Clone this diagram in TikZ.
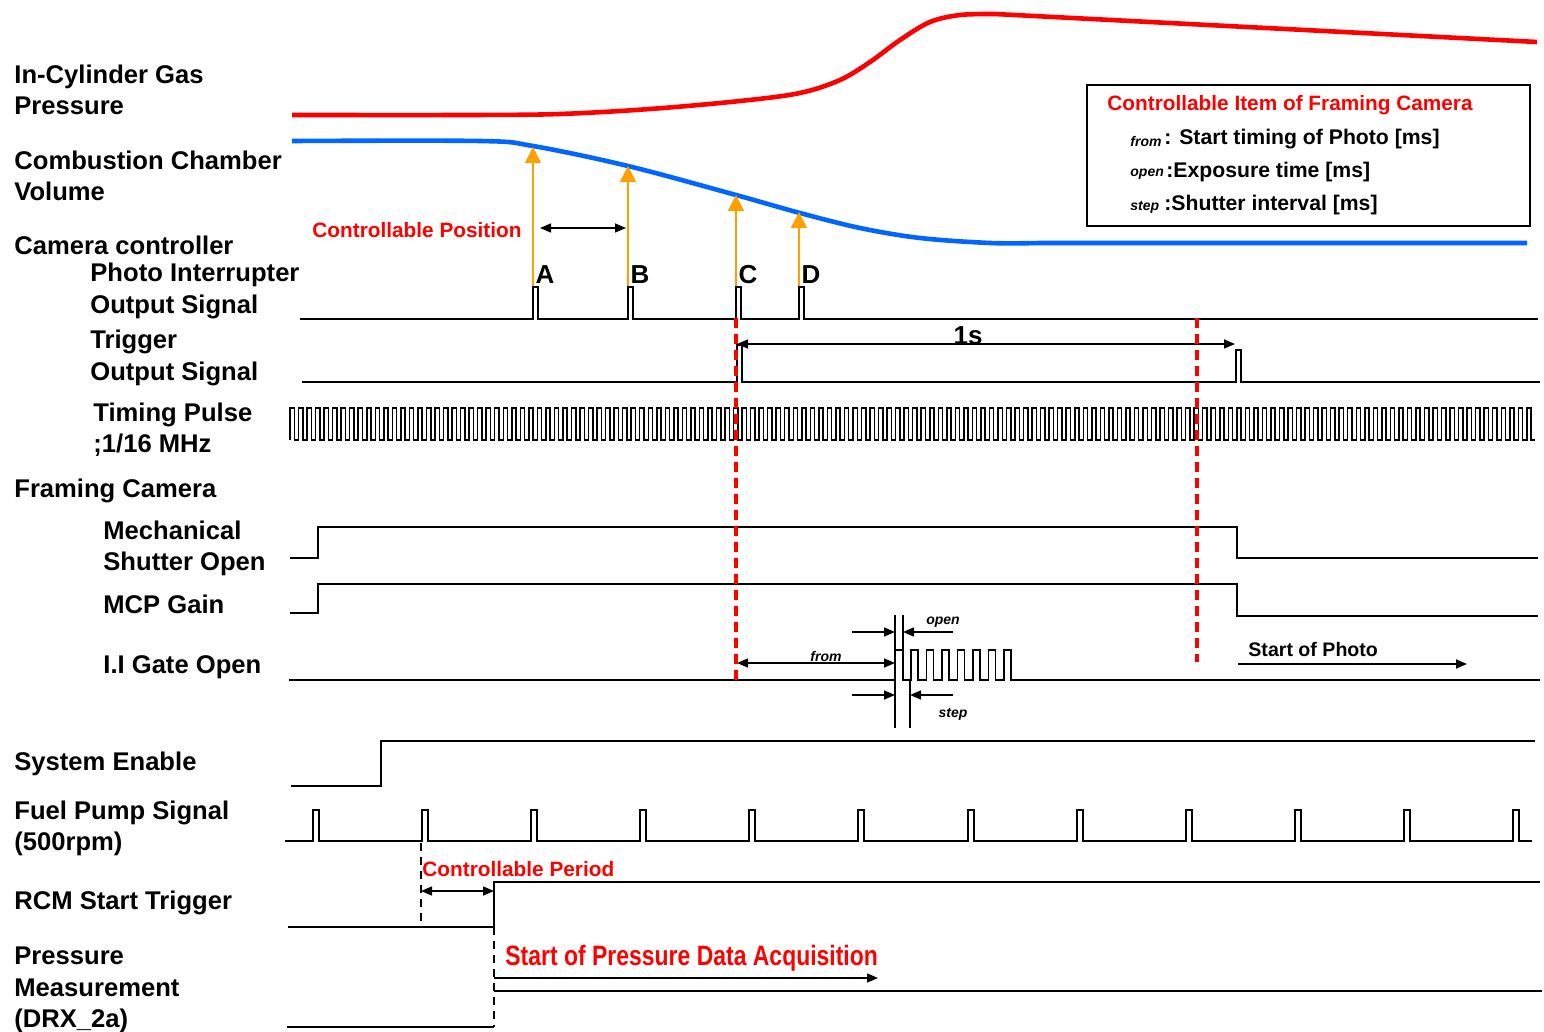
\documentclass[tikz,border=0pt]{standalone}
\usepackage{fontspec}
\setmainfont{Liberation Sans}
\usetikzlibrary{arrows.meta,calc}
\definecolor{volblue}{RGB}{0,102,255}
\definecolor{posorange}{RGB}{255,160,0}
\tikzset{
  sig/.style={line width=0.75pt,black,line join=miter},
  pcurve/.style={line width=2.3pt,red},
  vcurve/.style={line width=2.3pt,volblue},
  oarr/.style={-{Triangle[length=8pt,width=8pt]},line width=0.8pt,posorange},
  darr/.style={{Triangle[length=5.5pt,width=4.5pt]}-{Triangle[length=5.5pt,width=4.5pt]},line width=0.75pt},
  sarr/.style={-{Triangle[length=5.5pt,width=4.5pt]},line width=0.75pt},
  rdash/.style={line width=1.8pt,red,dash pattern=on 5pt off 3pt},
  kdash/.style={line width=1.1pt,dash pattern=on 4pt off 3pt},
  lbl/.style={font=\fontsize{12.8}{15.6}\selectfont\bfseries,align=left,anchor=west,inner sep=0pt},
  rtxt/.style={font=\fontsize{10.4}{12}\selectfont\bfseries,text=red,inner sep=0pt},
  btxt/.style={font=\fontsize{10.6}{12}\selectfont\bfseries,inner sep=0pt,anchor=west},
  itxt/.style={font=\fontsize{7}{8}\selectfont\bfseries\itshape,inner sep=0pt},
  abcd/.style={font=\fontsize{13}{14}\selectfont\bfseries,inner sep=0pt},
}

\begin{document}
\begin{tikzpicture}[x=0.5pt,y=-0.5pt]
  \useasboundingbox (0,0) rectangle (1544,1032);
  % row labels
  \node[lbl] (lGas) at (14,90) {In-Cylinder Gas\\Pressure};
  \node[lbl] (lVol) at (14,176) {Combustion Chamber\\Volume};
  \node[lbl] (lCtl) at (14,245) {Camera controller};
  \node[lbl] (lPI) at (90,291) {Photo Interrupter\\Output Signal};
  \node[lbl] (lTrg) at (90,358) {Trigger\\Output Signal};
  \node[lbl] (lTP) at (93,430) {Timing Pulse\\;1/16 MHz};
  \node[lbl] (lFC) at (14,491) {Framing Camera};
  \node[lbl] (lMS) at (103,548) {Mechanical\\Shutter Open};
  \node[lbl] (lMCP) at (103,604) {MCP Gain};
  \node[lbl] (lII) at (103,667) {I.I Gate Open};
  \node[lbl] (lSE) at (14,764) {System Enable};
  \node[lbl] (lFP) at (14,828) {Fuel Pump Signal\\(500rpm)};
  \node[lbl] (lRCM) at (14,903) {RCM Start Trigger};
  \node[lbl] (lPM) at (14,990) {Pressure\\Measurement\\(DRX\_2a)};

  % pressure and volume curves
  \draw[pcurve] plot[smooth,tension=0.55] coordinates {(292,115) (470,115) (560,114) (650,109)
    (740,101) (800,93) (840,80) (870,62) (900,40) (930,22) (960,15) (995,14)} -- (1537,42);
  \draw[vcurve] plot[smooth,tension=0.55] coordinates {(292,141) (480,141) (533,146) (628,166)
    (736,195) (800,213) (860,228) (920,238) (990,243) (1040,243)} -- (1527,243);

  % photo interrupter positions
  \foreach \n/\x/\y in {A/533/147,B/628/166,C/736/195,D/799/212}{
    \coordinate (top\n) at (\x,287);
    \coordinate (vol\n) at (\x,\y);
    \draw[oarr] (top\n) -- (vol\n);
    \node[abcd] (lbl\n) at (\x+12,275) {\n};
  }
  \coordinate (posL) at (540,228);
  \coordinate (posR) at (626,228);
  \draw[darr] (posL) -- (posR);
  \node[rtxt,anchor=east] (cpos) at (522,230) {Controllable Position};

  \draw[sig] (300,319) \foreach \x in {533,628,736,799}{ -- (\x,319) -- (\x,287) -- (\x+5,287) -- (\x+5,319)} -- (1538,319);

  % trigger output
  \draw[sig] (302,382) -- (737,382) -- (737,345) -- (742,345) -- (742,382) -- (1236,382)
    -- (1236,350) -- (1241,350) -- (1241,382) -- (1540,382);
  \coordinate (sL) at (737,344);
  \coordinate (sR) at (1235,344);
  \draw[darr] (sL) -- (sR);
  \node[abcd] (one) at (968,336) {1s};

  % timing pulse
  \draw[sig] (290,440) \foreach \i in {1,...,146}{ -- ++(0,-32) -- ++(4.27,0) -- ++(0,32) -- ++(4.26,0)};

  % framing camera
  \draw[sig] (290,558) -- (318,558) -- (318,527) -- (1237,527) -- (1237,558) -- (1538,558);
  \draw[sig] (290,613) -- (318,613) -- (318,584) -- (1237,584) -- (1237,616) -- (1538,616);
  \draw[sig] (289,680) -- (895,680) -- (895,650) -- (903,650) -- (903,680)
    \foreach \k in {0,...,6}{ -- ({911+\k*15.5},680) -- ({911+\k*15.5},650) -- ({918+\k*15.5},650) -- ({918+\k*15.5},680)}
    -- (1540,680);
  \draw[sig] (895,615) -- (895,728);
  \draw[sig] (903,615) -- (903,680);
  \draw[sig] (910,680) -- (910,728);
  \coordinate (oL) at (852,632); \coordinate (oLt) at (895,632);
  \coordinate (oR) at (953,632); \coordinate (oRt) at (903,632);
  \draw[sarr] (oL) -- (oLt);
  \draw[sarr] (oR) -- (oRt);
  \node[itxt] (topen) at (943,622) {open};
  \coordinate (fL) at (737,663); \coordinate (fR) at (895,663);
  \draw[darr] (fL) -- (fR);
  \node[itxt] (tfrom) at (826,656) {from};
  \coordinate (stL) at (852,695); \coordinate (stLt) at (895,695);
  \coordinate (stR) at (953,695); \coordinate (stRt) at (910,695);
  \draw[sarr] (stL) -- (stLt);
  \draw[sarr] (stR) -- (stRt);
  \node[itxt] (tstep) at (953,714) {step};
  \node[font=\fontsize{9.8}{11}\selectfont\bfseries,inner sep=0pt,anchor=west] (sph) at (1248,649) {Start of Photo};
  \coordinate (phL) at (1238,664); \coordinate (phR) at (1467,664);
  \draw[sarr] (phL) -- (phR);

  % red time marks
  \draw[rdash] (736,318) -- (736,682);
  \draw[rdash] (1197,318) -- (1197,662);

  % system enable, fuel pump
  \draw[sig] (291,786) -- (381,786) -- (381,741) -- (1535,741);
  \draw[sig] (285,841) \foreach \x in {313,422,531,640,749,858,968,1077,1186,1295,1404,1513}{ -- (\x,841) -- (\x,810) -- (\x+6,810) -- (\x+6,841)} -- (1532,841);

  % RCM start trigger
  \draw[sig] (288,927) -- (494,927) -- (494,882) -- (1540,882);
  \draw[kdash] (421,843) -- (421,925);
  \coordinate (cpL) at (421,891); \coordinate (cpR) at (494,891);
  \draw[darr] (cpL) -- (cpR);
  \node[rtxt,anchor=west] (cper) at (422,869) {Controllable Period};

  % pressure measurement
  \draw[sig] (287,1027) -- (494,1027);
  \draw[kdash] (494,927) -- (494,1027);
  \draw[sig] (494,991) -- (1542,991);
  \node[font=\fontsize{14}{16}\selectfont\bfseries,text=red,inner sep=0pt,anchor=west] (spd) at (505,958)
    {\scalebox{0.82}[1]{Start of Pressure Data Acquisition}};
  \coordinate (paL) at (494,978); \coordinate (paR) at (878,978);
  \draw[sarr] (paL) -- (paR);

  % legend box
  \draw[line width=1.1pt] (1087,85) rectangle (1530,226);
  \node[rtxt,anchor=west] (bt) at (1107,105) {Controllable Item of Framing Camera};
  \node[itxt,anchor=west] (bf) at (1130,141) {from};
  \node[btxt] (bf2) at (1164,139) {: Start timing of Photo [ms]};
  \node[itxt,anchor=west] (bo) at (1130,174) {open};
  \node[btxt] (bo2) at (1166,172) {:Exposure time [ms]};
  \node[itxt,anchor=west] (bs) at (1130,207) {step};
  \node[btxt] (bs2) at (1164,205) {:Shutter interval [ms]};
\end{tikzpicture}
\end{document}
